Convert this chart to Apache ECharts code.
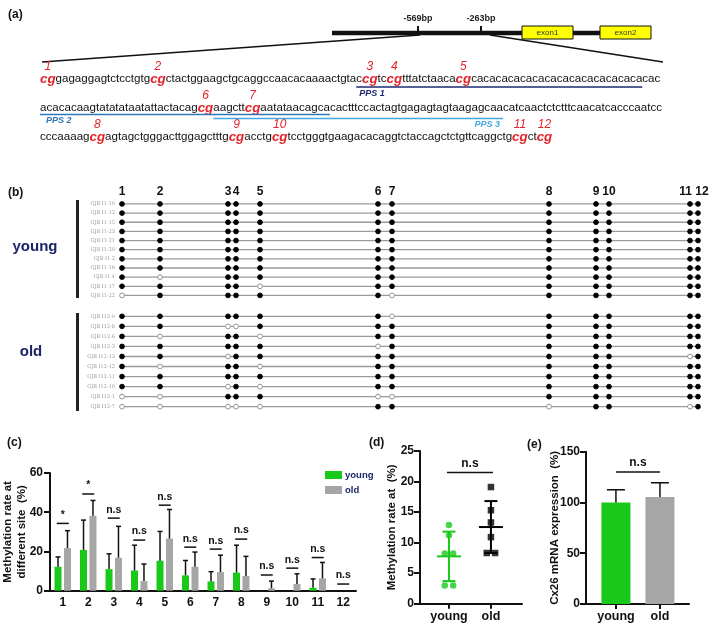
<!DOCTYPE html>
<html><head><meta charset="utf-8">
<script src="https://cdn.jsdelivr.net/npm/echarts@6/dist/echarts.min.js"></script>
<style>html,body{margin:0;padding:0;background:#fff}#c{width:709px;height:624px}</style>
</head><body><div id="c"></div><script>
// ---------------- DATA ----------------
// (a) promoter map and sequence
const geneMarks = ['-569bp', '-263bp'];
const exonNames = ['exon1', 'exon2'];
const seqSegments = [
  [[1,'cg'],'gagaggagtctcctgtg',[2,'cg'],'ctactggaagctgcaggccaacacaaaactgtac',[3,'cg'],'tc',[4,'cg'],'tttatctaaca',[5,'cg'],'cacacacacacacacacacacacacacacac'],
  ['acacacaagtatatataatattactacag',[6,'cg'],'aagctt',[7,'cg'],'aatataacagcacactttccactagtgagagtagtaagagcaacatcaactctctttcaacatcacccaatcc'],
  ['cccaaaag',[8,'cg'],'agtagctgggacttggagctttg',[9,'cg'],'acctg',[10,'cg'],'tcctgggtgaagacacaggtctaccagctctgttcaggctg',[11,'cg'],'ct',[12,'cg']]
];
const ppsNames = ['PPS 1', 'PPS 2', 'PPS 3'];
const ppsLine = [0, 1, 1];
const ppsFrom = [54, 0, 31];
const ppsTo = [102, 51, 82];

// (b) bisulfite clones
const siteNames = ['1','2','3','4','5','6','7','8','9','10','11','12'];
const sitePos = [0, 38, 106, 114, 138, 256, 270, 427, 474, 487, 568, 576];
const youngClones = ['GJB I1-10','GJB I1-12','GJB I1-15','GJB I1-23','GJB I1-21','GJB I1-20','GJB I1-2','GJB I1-18','GJB I1-4','GJB I1-17','GJB I1-22'];
const youngPattern = ['111111111111','111111111111','111111111111','111111111111','111111111111','111111111111','111111111111','111111111111','101111111111','111101111111','011111011111'];
const oldClones = ['GJB I12-9','GJB I12-8','GJB I12-6','GJB I12-3','GJB I12-13','GJB I12-12','GJB I12-11','GJB I12-10','GJB I12-1','GJB I12-7'];
const oldPattern = ['111111011111','110011111111','101101111111','111110111111','110111111101','101101111111','111111111111','110101111111','001110011111','000001101101'];

// (c) methylation rate at each site
const groups = ['young', 'old'];
const youngMean = [12.2, 20.8, 11.0, 10.3, 15.3, 7.8, 4.7, 9.2, 0, 0, 1.5, 0];
const youngSD   = [5.0, 15.2, 7.8, 12.9, 14.9, 7.6, 5.0, 14.0, 0, 0, 4.5, 0];
const oldMean   = [21.7, 38.2, 16.8, 4.9, 26.6, 12.2, 9.5, 7.5, 1.2, 3.4, 6.3, 0];
const oldSD     = [8.9, 7.8, 16.0, 8.7, 14.8, 7.5, 8.6, 10.0, 3.7, 5.2, 8.1, 0];
const sigLabels = ['*','*','n.s','n.s','n.s','n.s','n.s','n.s','n.s','n.s','n.s','n.s'];
const sigLevel  = [34.3, 49.3, 37.0, 25.8, 43.6, 22.2, 21.2, 26.3, 8.0, 11.5, 16.9, 3.4];

// (d) overall methylation per animal
const youngRate = [12.9, 11.2, 8.2, 8.2, 3.0, 3.0];
const oldRate   = [19.1, 15.3, 13.3, 10.9, 8.3, 8.3];
const rateMean  = [7.75, 12.55];
const rateSD    = [4.05, 4.25];
const rateSig   = ['n.s'];
const rateSigLevel = [21.5];

// (e) Cx26 mRNA expression
const exprMean = [100, 105.3];
const exprSD   = [12.5, 14.1];
const exprSig  = ['n.s'];
const exprSigLevel = [130];

// ---------------- STYLE ----------------
const FONT = '"Liberation Sans", Arial, Helvetica, sans-serif';
const NAVY = '#1c2468';
const GREEN = '#19c919';
const GREY = '#a6a6a6';
const RED = '#e3222a';
const INK = '#111';
const ppsColors = ['#1b2a70', '#2f78b8', '#45a8e0'];
const siteLabelNudge = {'11': -4.5, '12': 4};

const chart = echarts.init(document.getElementById('c'), null, {renderer: 'canvas'});
const meas = document.createElement('canvas').getContext('2d');
function textW(t, f) { meas.font = f; return meas.measureText(t).width; }

// ---------------- (a) graphics ----------------
const G = [];
function txt(x, y, text, font, fill, align, va) {
  G.push({type: 'text', x: x, y: y, silent: true,
    style: {text: text, font: font, fill: fill || INK, align: align || 'left', verticalAlign: va || 'middle'}});
}
function seg(x1, y1, x2, y2, color, w) {
  G.push({type: 'line', silent: true, shape: {x1, y1, x2, y2}, style: {stroke: color || INK, lineWidth: w || 1}});
}
function rect(x, y, w, h, fill, stroke, lw) {
  G.push({type: 'rect', silent: true, shape: {x, y, width: w, height: h}, style: {fill, stroke: stroke || null, lineWidth: lw || 0}});
}
// panel letters
txt(8, 15, '(a)', 'bold 12px ' + FONT);
txt(8, 193, '(b)', 'bold 12px ' + FONT);
txt(7, 443, '(c)', 'bold 12px ' + FONT);
txt(369, 443, '(d)', 'bold 12px ' + FONT);
txt(527, 445, '(e)', 'bold 12px ' + FONT);

// gene map
seg(332, 33, 600, 33, INK, 4.5);
const markX = [418, 481];
geneMarks.forEach((m, i) => { seg(markX[i], 26, markX[i], 33, INK, 2); txt(markX[i], 19, m, 'bold 9px ' + FONT, '#222', 'center'); });
const exonX = [522, 600];
exonNames.forEach((e, i) => { rect(exonX[i], 26, 51, 13, '#ffff00', INK, 1); txt(exonX[i] + 25.5, 32.5, e, '8px ' + FONT, '#333', 'center'); });
seg(420, 35, 42, 62, INK, 1.6);
seg(490, 35, 663, 62, INK, 1.6);

// sequence
const SEQ_LEFT = 40, SEQ_RIGHT = 663;
const fN = s => s + 'px ' + FONT;
const fC = s => 'italic bold ' + (s * 1.15).toFixed(2) + 'px ' + FONT;
const segStr = g => typeof g === 'string' ? g : g[1];
const segFont = (g, s) => typeof g === 'string' ? fN(s) : fC(s);
function lineWidth(segs, s) { return segs.reduce((a, g) => a + textW(segStr(g), segFont(g, s)), 0); }
const seqSize = 12 * (SEQ_RIGHT - SEQ_LEFT) / lineWidth(seqSegments[1], 12);
const seqY = [79, 108, 137];
const charX = [];
seqSegments.forEach((segs, li) => {
  let x = SEQ_LEFT; const cx = [];
  segs.forEach(g => {
    const s = segStr(g), f = segFont(g, seqSize);
    for (let k = 0; k < s.length; k++) cx.push(x + textW(s.slice(0, k), f));
    const w = textW(s, f);
    if (typeof g === 'string') {
      txt(x, seqY[li], s, f, INK);
    } else {
      txt(x, seqY[li], s, f, RED);
      txt(x + w / 2, seqY[li] - 12, String(g[0]), 'italic 12px ' + FONT, RED, 'center');
    }
    x += w;
  });
  cx.push(x);
  charX.push(cx);
});
// PPS underlines
const ppsUnderDy = [8, 6.5, 10.5];
ppsNames.forEach((n, i) => {
  const li = ppsLine[i];
  const x1 = charX[li][ppsFrom[i]], x2 = charX[li][ppsTo[i]];
  const y = seqY[li] + ppsUnderDy[i];
  seg(x1, y, x2, y, ppsColors[i], 1.6);
  if (i === 2) txt(x2 - 3, y + 6.5, n, 'italic bold 9px ' + FONT, ppsColors[i], 'right');
  else txt(x1 + (i === 0 ? 3 : 6), y + 6.5, n, 'italic bold 9px ' + FONT, ppsColors[i], 'left');
});

// (b) decorations
rect(76, 200, 3, 98, '#222');
rect(76, 313, 3, 98, '#222');
txt(35, 247, 'young', 'bold 15px ' + FONT, NAVY, 'center');
txt(31, 352, 'old', 'bold 15px ' + FONT, NAVY, 'center');

// ---------------- helpers for series ----------------
function cloneRender(patterns) {
  return function (params, api) {
    const row = api.value(0);
    const pat = patterns[params.dataIndex];
    const pts = sitePos.map(p => api.coord([p, row]));
    const ch = [{type: 'line', shape: {x1: pts[0][0], y1: pts[0][1], x2: pts[11][0], y2: pts[11][1]}, style: {stroke: '#9a9a9a', lineWidth: 1.3}}];
    pts.forEach((p, k) => {
      const m = pat[k] === '1';
      ch.push({type: 'circle', shape: {cx: p[0], cy: p[1], r: 2.4},
        style: {fill: m ? '#000' : '#fff', stroke: m ? '#000' : '#8a8a8a', lineWidth: 0.9}});
    });
    return {type: 'group', children: ch};
  };
}
function siteLabelRender(params, api) {
  const p = api.coord([api.value(0), 0]);
  const name = siteNames[params.dataIndex];
  return {type: 'text', style: {text: name, x: p[0] + (siteLabelNudge[name] || 0), y: p[1] - 12.5,
    align: 'center', verticalAlign: 'middle', font: 'bold 12px ' + FONT, fill: INK}};
}
function errRender(sign, cap) {
  return function (params, api) {
    const i = api.value(0), m = api.value(1), sd = api.value(2);
    if (!sd) return {type: 'group', children: []};
    const p0 = api.coord([i, m]), p1 = api.coord([i, m + sd]);
    const x = p0[0] + sign;
    return {type: 'group', children: [
      {type: 'line', shape: {x1: x, y1: p0[1], x2: x, y2: p1[1]}, style: {stroke: INK, lineWidth: 1.5}},
      {type: 'line', shape: {x1: x - cap, y1: p1[1], x2: x + cap, y2: p1[1]}, style: {stroke: INK, lineWidth: 1.5}}
    ]};
  };
}
function bracketRender(labels, halfW, fontSize) {
  return function (params, api) {
    const a = api.value(0), b = api.value(1), lvl = api.value(2);
    const p1 = api.coord([a, lvl]), p2 = api.coord([b, lvl]);
    const x1 = p1[0] - halfW, x2 = p2[0] + halfW;
    return {type: 'group', children: [
      {type: 'line', shape: {x1, y1: p1[1], x2, y2: p1[1]}, style: {stroke: INK, lineWidth: 1.5}},
      {type: 'text', style: {text: labels[params.dataIndex], x: (x1 + x2) / 2, y: p1[1] - 3, align: 'center', verticalAlign: 'bottom', font: 'bold ' + fontSize + 'px ' + FONT, fill: INK}}
    ]};
  };
}
function swarm(vals, center) {
  const out = [];
  vals.forEach((v, i) => {
    const same = vals.map((u, j) => j).filter(j => vals[j] === v);
    const n = same.length, k = same.indexOf(i);
    out.push([center + (n > 1 ? (k - (n - 1) / 2) * 0.2 : 0), v]);
  });
  return out;
}

const axLine = {lineStyle: {color: INK, width: 2}};
const axTick = {length: 6, lineStyle: {color: INK, width: 2}};
const axLab = {color: INK, fontWeight: 'bold', fontSize: 12, fontFamily: FONT, margin: 7};
const nameStyle = {color: INK, fontWeight: 'bold', fontSize: 11.5, fontFamily: FONT, lineHeight: 14};

const option = {
  animation: false,
  textStyle: {fontFamily: FONT},
  graphic: {elements: G},
  legend: {
    data: groups, left: 320, top: 465, orient: 'vertical', icon: 'rect',
    itemWidth: 17, itemHeight: 8, itemGap: 5, selectedMode: false,
    textStyle: {color: NAVY, fontWeight: 'bold', fontSize: 9.5, fontFamily: FONT, padding: [0, 0, 0, -2]}
  },
  grid: [
    {left: 122, width: 576, top: 199.4, height: 100.6, outerBoundsMode: 'none'},
    {left: 122, width: 576, top: 311.3, height: 100.4, outerBoundsMode: 'none'},
    {left: 50, width: 306, top: 473, height: 117.7, outerBoundsMode: 'none'},
    {left: 420, width: 102, top: 451, height: 152.7, outerBoundsMode: 'none'},
    {left: 586, width: 103, top: 451.7, height: 152.3, outerBoundsMode: 'none'}
  ],
  xAxis: [
    {gridIndex: 0, type: 'value', min: 0, max: 576, show: false, splitLine: {show: false}},
    {gridIndex: 1, type: 'value', min: 0, max: 576, show: false, splitLine: {show: false}},
    {gridIndex: 2, type: 'category', data: siteNames, axisLine: axLine,
      axisTick: Object.assign({alignWithLabel: true}, axTick, {length: 5}), axisLabel: Object.assign({}, axLab, {margin: 6})},
    {gridIndex: 3, type: 'value', min: 0.31, max: 2.74, splitLine: {show: false}, axisLine: axLine,
      axisTick: Object.assign({customValues: [1, 2]}, axTick, {length: 5}),
      axisLabel: Object.assign({}, axLab, {customValues: [1, 2], formatter: v => groups[Math.round(v) - 1], fontSize: 12.5, margin: 6})},
    {gridIndex: 4, type: 'value', min: 0.32, max: 2.66, splitLine: {show: false}, axisLine: axLine,
      axisTick: Object.assign({customValues: [1, 2]}, axTick, {length: 5}),
      axisLabel: Object.assign({}, axLab, {customValues: [1, 2], formatter: v => groups[Math.round(v) - 1], fontSize: 12.5, margin: 6})}
  ],
  yAxis: [
    {gridIndex: 0, type: 'category', data: youngClones, inverse: true, axisLine: {show: false}, axisTick: {show: false},
      axisLabel: {fontSize: 5, color: '#999', margin: 7, interval: 0, fontFamily: '"DejaVu Serif", serif'}},
    {gridIndex: 1, type: 'category', data: oldClones, inverse: true, axisLine: {show: false}, axisTick: {show: false},
      axisLabel: {fontSize: 5, color: '#999', margin: 7, interval: 0, fontFamily: '"DejaVu Serif", serif'}},
    {gridIndex: 2, type: 'value', min: 0, max: 60, interval: 20, splitLine: {show: false},
      axisLine: Object.assign({show: true}, axLine), axisTick: Object.assign({show: true}, axTick), axisLabel: axLab,
      name: 'Methylation rate at\ndifferent site  (%)', nameLocation: 'middle', nameGap: 21, nameMoveOverlap: false, nameTextStyle: nameStyle},
    {gridIndex: 3, type: 'value', min: 0, max: 25, interval: 5, splitLine: {show: false},
      axisLine: Object.assign({show: true}, axLine), axisTick: Object.assign({show: true}, axTick), axisLabel: Object.assign({}, axLab, {margin: 6}),
      name: 'Methylation rate at  (%)', nameLocation: 'middle', nameGap: 21, nameMoveOverlap: false, nameTextStyle: nameStyle},
    {gridIndex: 4, type: 'value', min: 0, max: 150, interval: 50, splitLine: {show: false},
      axisLine: Object.assign({show: true}, axLine), axisTick: Object.assign({show: true}, axTick), axisLabel: Object.assign({}, axLab, {margin: 6}),
      name: 'Cx26 mRNA expression  (%)', nameLocation: 'middle', nameGap: 24, nameMoveOverlap: false, nameTextStyle: nameStyle}
  ],
  series: [
    // (b)
    {type: 'custom', xAxisIndex: 0, yAxisIndex: 0, silent: true, clip: false,
      data: sitePos.map(p => [p]), encode: {x: 0}, renderItem: siteLabelRender},
    {type: 'custom', xAxisIndex: 0, yAxisIndex: 0, silent: true, clip: false,
      data: youngClones.map((c, i) => [i]), encode: {y: 0}, renderItem: cloneRender(youngPattern)},
    {type: 'custom', xAxisIndex: 1, yAxisIndex: 1, silent: true, clip: false,
      data: oldClones.map((c, i) => [i]), encode: {y: 0}, renderItem: cloneRender(oldPattern)},
    // (c)
    {name: 'young', type: 'bar', xAxisIndex: 2, yAxisIndex: 2, data: youngMean, barWidth: 7, barGap: '35%',
      itemStyle: {color: GREEN}, silent: true},
    {name: 'old', type: 'bar', xAxisIndex: 2, yAxisIndex: 2, data: oldMean, barWidth: 7, barGap: '35%',
      itemStyle: {color: GREY}, silent: true},
    {type: 'custom', xAxisIndex: 2, yAxisIndex: 2, silent: true, clip: false, z: 5,
      data: youngMean.map((m, i) => [i, m, youngSD[i]]), encode: {x: 0, y: 1}, renderItem: errRender(-4.725, 2.5)},
    {type: 'custom', xAxisIndex: 2, yAxisIndex: 2, silent: true, clip: false, z: 5,
      data: oldMean.map((m, i) => [i, m, oldSD[i]]), encode: {x: 0, y: 1}, renderItem: errRender(4.725, 2.5)},
    {type: 'custom', xAxisIndex: 2, yAxisIndex: 2, silent: true, clip: false,
      data: sigLevel.map((l, i) => [i, i, l]), encode: {x: 0, y: 2}, renderItem: bracketRender(sigLabels, 6, 10.5)},
    // (d)
    {type: 'scatter', xAxisIndex: 3, yAxisIndex: 3, data: swarm(youngRate, 1), symbol: 'circle', symbolSize: 6.5,
      itemStyle: {color: GREEN}, silent: true, z: 4},
    {type: 'scatter', xAxisIndex: 3, yAxisIndex: 3, data: swarm(oldRate, 2), symbol: 'rect', symbolSize: 6.5,
      itemStyle: {color: '#000'}, silent: true, z: 4},
    {type: 'custom', xAxisIndex: 3, yAxisIndex: 3, silent: true, clip: false, z: 3,
      data: rateMean.map((m, i) => [i + 1, m, rateSD[i]]), encode: {x: 0, y: 1},
      renderItem: function (params, api) {
        const x = api.value(0), m = api.value(1), sd = api.value(2);
        const c = params.dataIndex === 0 ? GREEN : '#000';
        const pm = api.coord([x, m]), pt = api.coord([x, m + sd]), pb = api.coord([x, m - sd]);
        const st = {stroke: c, lineWidth: 2};
        return {type: 'group', children: [
          {type: 'line', shape: {x1: pm[0] - 12, y1: pm[1], x2: pm[0] + 12, y2: pm[1]}, style: st},
          {type: 'line', shape: {x1: pm[0], y1: pt[1], x2: pm[0], y2: pb[1]}, style: st},
          {type: 'line', shape: {x1: pm[0] - 6.5, y1: pt[1], x2: pm[0] + 6.5, y2: pt[1]}, style: st},
          {type: 'line', shape: {x1: pm[0] - 6.5, y1: pb[1], x2: pm[0] + 6.5, y2: pb[1]}, style: st}
        ]};
      }},
    {type: 'custom', xAxisIndex: 3, yAxisIndex: 3, silent: true, clip: false,
      data: rateSigLevel.map(l => [1, 2, l]), encode: {x: 0, y: 2}, renderItem: bracketRender(rateSig, 2, 12)},
    // (e)
    {type: 'custom', xAxisIndex: 4, yAxisIndex: 4, silent: true, clip: false,
      data: exprMean.map((m, i) => [i + 1, m]), encode: {x: 0, y: 1},
      renderItem: function (params, api) {
        const x = api.value(0), v = api.value(1);
        const p0 = api.coord([x, 0]), p1 = api.coord([x, v]);
        return {type: 'rect', shape: {x: p0[0] - 14.5, y: p1[1], width: 29, height: p0[1] - p1[1]},
          style: {fill: params.dataIndex === 0 ? GREEN : GREY}};
      }},
    {type: 'custom', xAxisIndex: 4, yAxisIndex: 4, silent: true, clip: false, z: 5,
      data: exprMean.map((m, i) => [i + 1, m, exprSD[i]]), encode: {x: 0, y: 1}, renderItem: errRender(0, 9)},
    {type: 'custom', xAxisIndex: 4, yAxisIndex: 4, silent: true, clip: false,
      data: exprSigLevel.map(l => [1, 2, l]), encode: {x: 0, y: 2}, renderItem: bracketRender(exprSig, 0, 12)}
  ]
};
chart.setOption(option);
</script></body></html>
